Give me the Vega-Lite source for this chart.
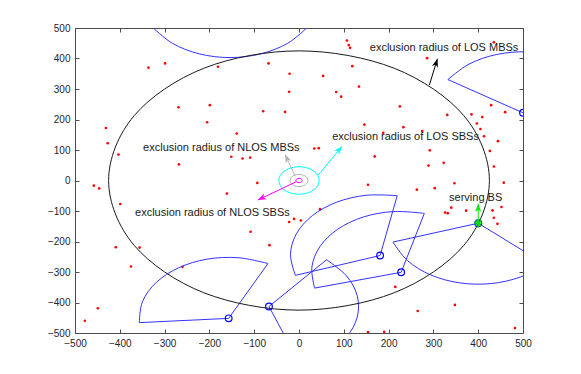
{
  "$schema": "https://vega.github.io/schema/vega-lite/v6.json",
  "width": 448,
  "height": 305,
  "autosize": {"type": "none"},
  "padding": {"left": 75, "top": 28, "right": 58, "bottom": 41},
  "background": "white",
  "view": {"stroke": "#4d4d4d", "strokeWidth": 1},
  "config": {
    "font": "Liberation Sans",
    "axis": {"labelFont": "Liberation Sans", "labelFontSize": 10, "labelColor": "#262626", "domainColor": "#4d4d4d", "tickColor": "#4d4d4d", "grid": false}
  },
  "datasets": {
    "dots": [
      {"x":-336,"y":370},{"x":-299,"y":384},{"x":-181,"y":373},{"x":-68,"y":384},{"x":-21,"y":350},{"x":-22,"y":291},{"x":-269,"y":240},{"x":-199,"y":247},{"x":-80,"y":227},{"x":-31,"y":225},{"x":-205,"y":191},{"x":-431,"y":172},{"x":-139,"y":154},{"x":-427,"y":122},{"x":-403,"y":85},{"x":-151,"y":78},{"x":-126,"y":72},{"x":-109,"y":75},{"x":-268,"y":53},
      {"x":107,"y":459},{"x":111,"y":444},{"x":114,"y":435},{"x":435,"y":453},{"x":119,"y":375},{"x":54,"y":343},{"x":286,"y":401},{"x":134,"y":308},{"x":83,"y":290},{"x":94,"y":275},{"x":225,"y":243},{"x":429,"y":247},{"x":460,"y":224},{"x":331,"y":215},{"x":385,"y":217},{"x":409,"y":208},{"x":397,"y":187},{"x":405,"y":169},{"x":146,"y":183},{"x":233,"y":175},{"x":275,"y":162},{"x":188,"y":156},{"x":413,"y":145},{"x":444,"y":129},{"x":34,"y":105},{"x":44,"y":106},{"x":169,"y":79},{"x":292,"y":99},{"x":426,"y":97},{"x":289,"y":49},{"x":323,"y":58},{"x":435,"y":46},
      {"x":-458,"y":-17},{"x":-446,"y":-26},{"x":-93,"y":-8},{"x":-161,"y":-43},{"x":-399,"y":-77},{"x":-22,"y":-136},{"x":-11,"y":-126},{"x":-108,"y":-168},{"x":-66,"y":-212},{"x":-409,"y":-219},{"x":-356,"y":-220},{"x":-375,"y":-282},{"x":-260,"y":-283},{"x":-449,"y":-419},{"x":-478,"y":-460},
      {"x":154,"y":-14},{"x":263,"y":-30},{"x":303,"y":-25},{"x":347,"y":-9},{"x":457,"y":-7},{"x":326,"y":-105},{"x":332,"y":-107},{"x":340,"y":-89},{"x":373,"y":-99},{"x":432,"y":-98},{"x":452,"y":-87},{"x":435,"y":-122},{"x":443,"y":-142},{"x":47,"y":-94},{"x":4,"y":-131},{"x":215,"y":-349},{"x":348,"y":-408},{"x":265,"y":-428},{"x":482,"y":-484},{"x":154,"y":-497},{"x":190,"y":-496}
    ],
    "bs": [
      {"x":-157,"y":-452},{"x":-67,"y":-413},{"x":181,"y":-246},{"x":228,"y":-301},{"x":500,"y":222},{"x":400,"y":-140},{"x":-154,"y":603}
    ],
    "serving": [{"x":400,"y":-140}],
    "rings": [
      {"ring":"los_mbs","i":0,"x":425,"y":0},{"ring":"los_mbs","i":1,"x":368,"y":212.5},{"ring":"los_mbs","i":2,"x":212.5,"y":368},{"ring":"los_mbs","i":3,"x":0,"y":425},{"ring":"los_mbs","i":4,"x":-212.5,"y":368},{"ring":"los_mbs","i":5,"x":-368,"y":212.5},{"ring":"los_mbs","i":6,"x":-425,"y":0},{"ring":"los_mbs","i":7,"x":-368,"y":-212.5},{"ring":"los_mbs","i":8,"x":-212.5,"y":-368},{"ring":"los_mbs","i":9,"x":0,"y":-425},{"ring":"los_mbs","i":10,"x":212.5,"y":-368},{"ring":"los_mbs","i":11,"x":368,"y":-212.5},
      {"ring":"los_sbs","i":0,"x":45,"y":0},{"ring":"los_sbs","i":1,"x":39,"y":22.5},{"ring":"los_sbs","i":2,"x":22.5,"y":39},{"ring":"los_sbs","i":3,"x":0,"y":45},{"ring":"los_sbs","i":4,"x":-22.5,"y":39},{"ring":"los_sbs","i":5,"x":-39,"y":22.5},{"ring":"los_sbs","i":6,"x":-45,"y":0},{"ring":"los_sbs","i":7,"x":-39,"y":-22.5},{"ring":"los_sbs","i":8,"x":-22.5,"y":-39},{"ring":"los_sbs","i":9,"x":0,"y":-45},{"ring":"los_sbs","i":10,"x":22.5,"y":-39},{"ring":"los_sbs","i":11,"x":39,"y":-22.5},
      {"ring":"nlos_mbs","i":0,"x":20,"y":0},{"ring":"nlos_mbs","i":1,"x":17.3,"y":10},{"ring":"nlos_mbs","i":2,"x":10,"y":17.3},{"ring":"nlos_mbs","i":3,"x":0,"y":20},{"ring":"nlos_mbs","i":4,"x":-10,"y":17.3},{"ring":"nlos_mbs","i":5,"x":-17.3,"y":10},{"ring":"nlos_mbs","i":6,"x":-20,"y":0},{"ring":"nlos_mbs","i":7,"x":-17.3,"y":-10},{"ring":"nlos_mbs","i":8,"x":-10,"y":-17.3},{"ring":"nlos_mbs","i":9,"x":0,"y":-20},{"ring":"nlos_mbs","i":10,"x":10,"y":-17.3},{"ring":"nlos_mbs","i":11,"x":17.3,"y":-10},
      {"ring":"nlos_sbs","i":0,"x":7,"y":0},{"ring":"nlos_sbs","i":1,"x":6.1,"y":3.5},{"ring":"nlos_sbs","i":2,"x":3.5,"y":6.1},{"ring":"nlos_sbs","i":3,"x":0,"y":7},{"ring":"nlos_sbs","i":4,"x":-3.5,"y":6.1},{"ring":"nlos_sbs","i":5,"x":-6.1,"y":3.5},{"ring":"nlos_sbs","i":6,"x":-7,"y":0},{"ring":"nlos_sbs","i":7,"x":-6.1,"y":-3.5},{"ring":"nlos_sbs","i":8,"x":-3.5,"y":-6.1},{"ring":"nlos_sbs","i":9,"x":0,"y":-7},{"ring":"nlos_sbs","i":10,"x":3.5,"y":-6.1},{"ring":"nlos_sbs","i":11,"x":6.1,"y":-3.5}
    ],
    "arcs": [
      {"s":1,"i":0,"x":-69.3,"y":-272.2},{"s":1,"i":1,"x":-136.1,"y":-253.1},{"s":1,"i":2,"x":-205.4,"y":-257.9},{"s":1,"i":3,"x":-268.8,"y":-286.2},{"s":1,"i":4,"x":-318.8,"y":-334.4},{"s":1,"i":5,"x":-349.3,"y":-396.9},{"s":1,"i":6,"x":-356.5,"y":-466},
      {"s":2,"i":0,"x":1.4,"y":-600.9},{"s":2,"i":1,"x":61.6,"y":-566.2},{"s":2,"i":2,"x":106.2,"y":-513},{"s":2,"i":3,"x":130,"y":-447.7},{"s":2,"i":4,"x":130,"y":-378.3},{"s":2,"i":5,"x":106.2,"y":-313},{"s":2,"i":6,"x":61.6,"y":-259.8},
      {"s":3,"i":0,"x":219.2,"y":-49.7},{"s":3,"i":1,"x":149.7,"y":-48.5},{"s":3,"i":2,"x":84,"y":-71.1},{"s":3,"i":3,"x":30.1,"y":-114.8},{"s":3,"i":4,"x":-5.7,"y":-174.3},{"s":3,"i":5,"x":-19,"y":-242.5},{"s":3,"i":6,"x":-8.1,"y":-311.1},
      {"s":4,"i":0,"x":279.8,"y":-107.8},{"s":4,"i":1,"x":210.6,"y":-101.8},{"s":4,"i":2,"x":143.5,"y":-119.7},{"s":4,"i":3,"x":86.6,"y":-159.6},{"s":4,"i":4,"x":46.7,"y":-216.5},{"s":4,"i":5,"x":28.8,"y":-283.6},{"s":4,"i":6,"x":34.8,"y":-352.8},
      {"s":5,"i":0,"x":678.2,"y":312.8},{"s":5,"i":1,"x":636.4,"y":368.3},{"s":5,"i":2,"x":578.1,"y":406.1},{"s":5,"i":3,"x":510.5,"y":421.7},{"s":5,"i":4,"x":441.5,"y":413.3},{"s":5,"i":5,"x":379.6,"y":381.7},{"s":5,"i":6,"x":332.3,"y":330.9},
      {"s":6,"i":0,"x":209.8,"y":-201.8},{"s":6,"i":1,"x":242.4,"y":-263.1},{"s":6,"i":2,"x":294,"y":-309.6},{"s":6,"i":3,"x":358.4,"y":-335.6},{"s":6,"i":4,"x":427.8,"y":-338.1},{"s":6,"i":5,"x":493.9,"y":-316.6},{"s":6,"i":6,"x":548.6,"y":-273.8},
      {"s":7,"i":0,"x":-327.2,"y":503},{"s":7,"i":1,"x":-282.6,"y":449.8},{"s":7,"i":2,"x":-222.4,"y":415.1},{"s":7,"i":3,"x":-154,"y":403},{"s":7,"i":4,"x":-85.6,"y":415.1},{"s":7,"i":5,"x":-25.4,"y":449.8},{"s":7,"i":6,"x":19.2,"y":503}
    ],
    "radials": [
      {"s":1,"i":0,"x":-69.3,"y":-272.2},{"s":1,"i":1,"x":-157,"y":-452},{"s":1,"i":2,"x":-356.5,"y":-466},
      {"s":2,"i":0,"x":61.6,"y":-259.8},{"s":2,"i":1,"x":-67,"y":-413},{"s":2,"i":2,"x":1.4,"y":-600.9},
      {"s":3,"i":0,"x":219.2,"y":-49.7},{"s":3,"i":1,"x":181,"y":-246},{"s":3,"i":2,"x":-8.1,"y":-311.1},
      {"s":4,"i":0,"x":279.8,"y":-107.8},{"s":4,"i":1,"x":228,"y":-301},{"s":4,"i":2,"x":34.8,"y":-352.8},
      {"s":5,"i":0,"x":332.3,"y":330.9},{"s":5,"i":1,"x":500,"y":222},{"s":5,"i":2,"x":678.2,"y":312.8},
      {"s":6,"i":0,"x":209.8,"y":-201.8},{"s":6,"i":1,"x":400,"y":-140},{"s":6,"i":2,"x":548.6,"y":-273.8},
      {"s":7,"i":0,"x":-327.2,"y":503},{"s":7,"i":1,"x":-154,"y":603},{"s":7,"i":2,"x":19.2,"y":503}
    ],
    "arrows": [
      {"a":"nlos_mbs","i":0,"x":-9,"y":15},{"a":"nlos_mbs","i":1,"x":-31,"y":85},
      {"a":"los_sbs","i":0,"x":43,"y":18},{"a":"los_sbs","i":1,"x":96,"y":112},
      {"a":"nlos_sbs","i":0,"x":-6,"y":-4},{"a":"nlos_sbs","i":1,"x":-92,"y":-64},
      {"a":"los_mbs","i":0,"x":291,"y":313},{"a":"los_mbs","i":1,"x":309,"y":399},
      {"a":"serving","i":0,"x":400,"y":-140},{"a":"serving","i":1,"x":400,"y":-76}
    ],
    "labels": [
      {"label":"exclusion radius of NLOS MBSs","x":-348,"y":108},
      {"label":"exclusion radius of LOS SBSs","x":74,"y":141},
      {"label":"exclusion radius of LOS MBSs","x":158,"y":436},
      {"label":"exclusion radius of NLOS SBSs","x":-366,"y":-108},
      {"label":"serving BS","x":335,"y":-59}
    ]
  },
  "encoding": {
    "x": {"field": "x", "type": "quantitative", "scale": {"domain": [-500, 500], "nice": false, "zero": false}, "axis": null},
    "y": {"field": "y", "type": "quantitative", "scale": {"domain": [-500, 500], "nice": false, "zero": false}, "axis": null}
  },
  "layer": [
    {
      "data": {"name": "dots"},
      "mark": {"type": "point", "shape": "circle", "filled": true, "color": "#ff0000", "size": 7, "opacity": 1, "clip": true},
      "encoding": {
        "x": {"field": "x", "type": "quantitative", "scale": {"domain": [-500, 500], "nice": false, "zero": false},
          "axis": {"orient": "bottom", "title": null, "values": [-500,-400,-300,-200,-100,0,100,200,300,400,500], "tickSize": -4, "labelPadding": 9, "labelFlush": false, "domain": false}},
        "y": {"field": "y", "type": "quantitative", "scale": {"domain": [-500, 500], "nice": false, "zero": false},
          "axis": {"orient": "left", "title": null, "values": [-500,-400,-300,-200,-100,0,100,200,300,400,500], "tickSize": -4, "labelPadding": 9, "labelFlush": false, "domain": false}}
      }
    },
    {
      "data": {"name": "arcs"},
      "mark": {"type": "line", "interpolate": "cardinal", "color": "#3333ff", "strokeWidth": 1, "clip": true},
      "encoding": {
        "x": {"field": "x", "type": "quantitative", "scale": {"domain": [-500, 500], "nice": false, "zero": false},
          "axis": {"orient": "top", "title": null, "values": [-500,-400,-300,-200,-100,0,100,200,300,400,500], "tickSize": -4, "labels": false, "domain": false}},
        "y": {"field": "y", "type": "quantitative", "scale": {"domain": [-500, 500], "nice": false, "zero": false},
          "axis": {"orient": "right", "title": null, "values": [-500,-400,-300,-200,-100,0,100,200,300,400,500], "tickSize": -4, "labels": false, "domain": false}},
        "detail": {"field": "s", "type": "nominal"},
        "order": {"field": "i", "type": "quantitative"}
      }
    },
    {
      "data": {"name": "radials"},
      "mark": {"type": "line", "color": "#3333ff", "strokeWidth": 1, "clip": true},
      "encoding": {
        "detail": {"field": "s", "type": "nominal"},
        "order": {"field": "i", "type": "quantitative"}
      }
    },
    {
      "data": {"name": "rings"},
      "mark": {"type": "line", "interpolate": "cardinal-closed", "strokeWidth": 1, "clip": true},
      "encoding": {
        "color": {"field": "ring", "type": "nominal", "legend": null,
          "scale": {"domain": ["los_mbs", "los_sbs", "nlos_mbs", "nlos_sbs"], "range": ["#1a1a1a", "#00ffff", "#b3b3b3", "#ff00ff"]}},
        "detail": {"field": "ring", "type": "nominal"},
        "order": {"field": "i", "type": "quantitative"}
      }
    },
    {
      "data": {"name": "bs"},
      "mark": {"type": "point", "shape": "circle", "filled": false, "color": "#0000ff", "strokeWidth": 1.2, "size": 45, "opacity": 1, "clip": true},
      "encoding": {}
    },
    {
      "data": {"name": "arrows"},
      "mark": {"type": "line", "strokeWidth": 1, "clip": true},
      "encoding": {
        "color": {"field": "a", "type": "nominal", "legend": null,
          "scale": {"domain": ["nlos_mbs", "los_sbs", "nlos_sbs", "los_mbs", "serving"], "range": ["#b3b3b3", "#00ffff", "#ff00ff", "#000000", "#00ee00"]}},
        "detail": {"field": "a", "type": "nominal"},
        "order": {"field": "i", "type": "quantitative"}
      }
    },
    {
      "data": {"name": "arrows"},
      "transform": [{"filter": "datum.a === 'nlos_mbs' && datum.i === 1"}],
      "mark": {"type": "point", "shape": "M0,0L0.6,1.6L0,1.15L-0.6,1.6Z", "filled": true, "color": "#b3b3b3", "size": 110, "angle": 335, "opacity": 1, "clip": true},
      "encoding": {}
    },
    {
      "data": {"name": "arrows"},
      "transform": [{"filter": "datum.a === 'los_sbs' && datum.i === 1"}],
      "mark": {"type": "point", "shape": "M0,0L0.6,1.6L0,1.15L-0.6,1.6Z", "filled": true, "color": "#00ffff", "size": 110, "angle": 40, "opacity": 1, "clip": true},
      "encoding": {}
    },
    {
      "data": {"name": "arrows"},
      "transform": [{"filter": "datum.a === 'nlos_sbs' && datum.i === 1"}],
      "mark": {"type": "point", "shape": "M0,0L0.6,1.6L0,1.15L-0.6,1.6Z", "filled": true, "color": "#ff00ff", "size": 110, "angle": 245, "opacity": 1, "clip": true},
      "encoding": {}
    },
    {
      "data": {"name": "arrows"},
      "transform": [{"filter": "datum.a === 'los_mbs' && datum.i === 1"}],
      "mark": {"type": "point", "shape": "M0,0L0.6,1.6L0,1.15L-0.6,1.6Z", "filled": true, "color": "#000000", "size": 110, "angle": 17, "opacity": 1, "clip": true},
      "encoding": {}
    },
    {
      "data": {"name": "arrows"},
      "transform": [{"filter": "datum.a === 'serving' && datum.i === 1"}],
      "mark": {"type": "point", "shape": "M0,0L0.6,1.6L0,1.15L-0.6,1.6Z", "filled": true, "color": "#00ee00", "size": 110, "angle": 0, "opacity": 1, "clip": true},
      "encoding": {}
    },
    {
      "data": {"name": "serving"},
      "mark": {"type": "point", "shape": "M-1,0L1,0M0,-1L0,1M-0.7,-0.7L0.7,0.7M-0.7,0.7L0.7,-0.7", "filled": false, "color": "#00dd00", "strokeWidth": 1.3, "size": 70, "opacity": 1, "clip": true},
      "encoding": {}
    },
    {
      "data": {"name": "labels"},
      "mark": {"type": "text", "align": "left", "baseline": "middle", "font": "Liberation Sans", "fontSize": 11, "color": "#1a1a1a"},
      "encoding": {"text": {"field": "label", "type": "nominal"}}
    }
  ],
  "resolve": {"scale": {"color": "independent"}, "axis": {"x": "independent", "y": "independent"}}
}
